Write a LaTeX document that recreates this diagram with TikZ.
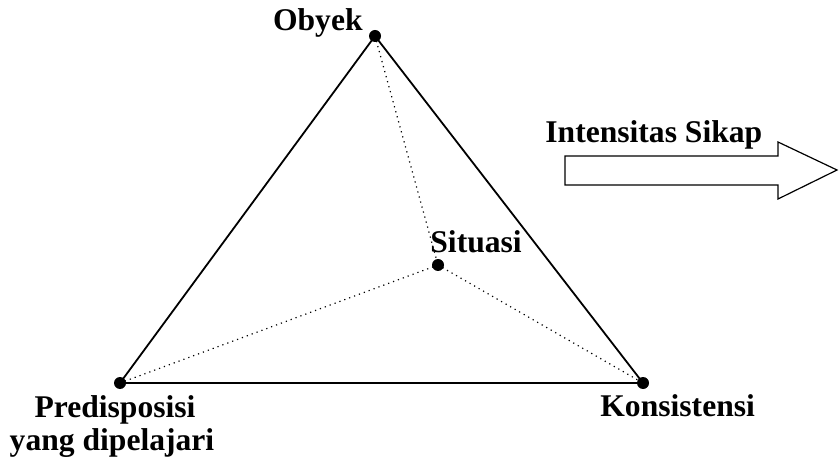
\documentclass[tikz,border=0pt]{standalone}
\usepackage{fontspec}
\setmainfont{Liberation Serif}
\begin{document}
\begin{tikzpicture}[x=0.5pt,y=-0.5pt,
  dot/.style={circle,fill=black,inner sep=0pt,minimum size=6pt},
  lbl/.style={inner sep=0pt,font=\fontsize{15.8}{18}\selectfont\bfseries},
  solidline/.style={line width=0.9pt},
  dotline/.style={line width=0.6pt,dotted},
  blockarrow/.style={line width=0.6pt,line join=miter}]
\useasboundingbox (0,0) rectangle (839,464);
\node[dot] (O) at (375,36) {};
\node[dot] (P) at (120,383) {};
\node[dot] (K) at (643,383) {};
\node[dot] (S) at (438,265) {};
\draw[solidline] (O.center) -- (P.center) -- (K.center) -- cycle;
\draw[dotline] (O.center) -- (S.center);
\draw[dotline] (S.center) -- (P.center);
\draw[dotline] (S.center) -- (K.center);
\node[lbl,anchor=base east] (Ol) at (363,31) {Obyek};
\node[lbl,anchor=base west] (Sl) at (430,253) {Situasi};
\node[lbl,anchor=base west] (Kl) at (600,416) {Konsistensi};
\node[lbl,anchor=base] (Pl1) at (115,417) {Predisposisi};
\node[lbl,anchor=base] (Pl2) at (112,450) {yang dipelajari};
\node[lbl,anchor=base west] (Il) at (545,143) {Intensitas Sikap};
\coordinate (a1) at (565,156);
\coordinate (a2) at (778,156);
\coordinate (a3) at (778,142);
\coordinate (a4) at (837,170);
\coordinate (a5) at (778,199);
\coordinate (a6) at (778,185);
\coordinate (a7) at (565,185);
\draw[blockarrow] (a1) -- (a2) -- (a3) -- (a4) -- (a5) -- (a6) -- (a7) -- cycle;
\end{tikzpicture}
\end{document}
